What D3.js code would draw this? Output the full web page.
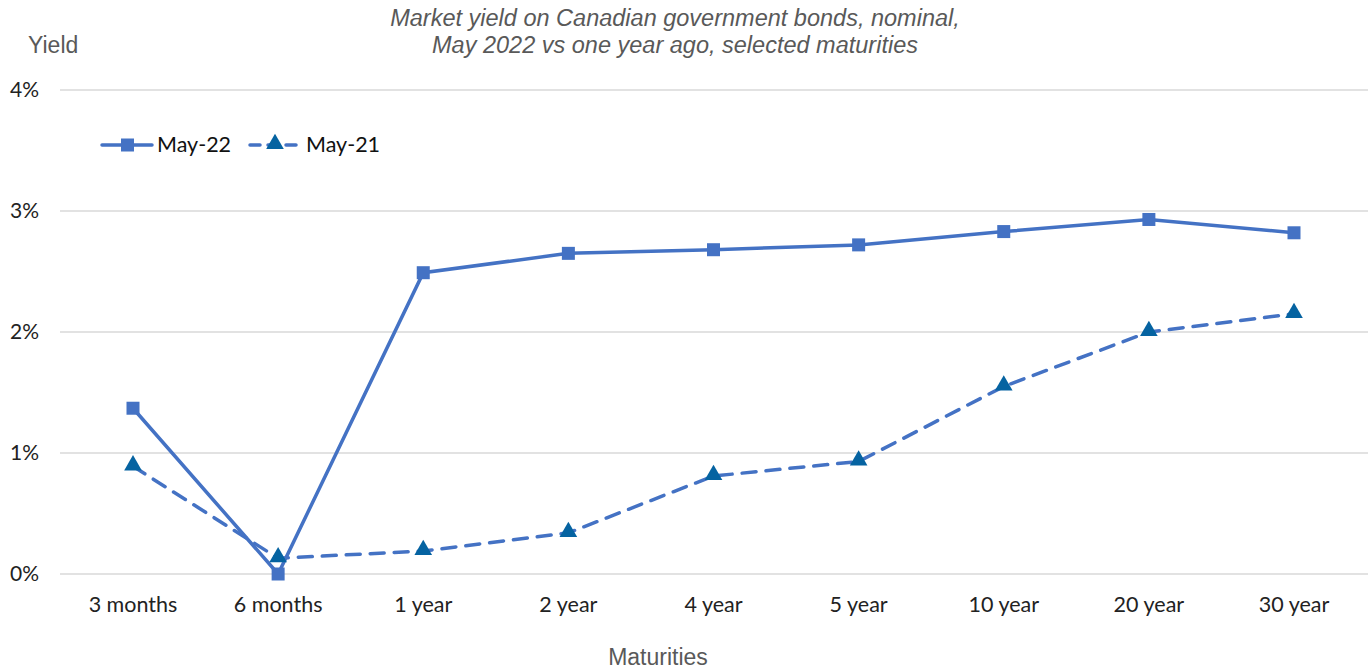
<!DOCTYPE html>
<html>
<head>
<meta charset="utf-8">
<script src="https://cdn.jsdelivr.net/npm/d3@7"></script>
<style>
  body { margin: 0; background: #fff; }
  svg text { font-family: Lato, "Open Sans", sans-serif; }
  .ttl { font-family: "Liberation Sans", Arial, sans-serif !important; }
</style>
</head>
<body>
<div id="chart"></div>
<script>
// data
var maturities = ['3 months', '6 months', '1 year', '2 year', '4 year', '5 year', '10 year', '20 year', '30 year'];
var may22 = [1.37, 0.0, 2.49, 2.65, 2.68, 2.72, 2.83, 2.93, 2.82];
var may21 = [0.89, 0.13, 0.19, 0.34, 0.81, 0.93, 1.55, 2.00, 2.15];
var yTicks = [0, 1, 2, 3, 4];

var W = 1368, H = 669;
var blue = '#4472c4', darkBlue = '#0563a1';

var svg = d3.select('#chart').append('svg').attr('width', W).attr('height', H);

var x = d3.scalePoint().domain(maturities).range([133, 1294]);
var y = d3.scaleLinear().domain([0, 4]).range([574, 90]);

// gridlines
svg.append('g').selectAll('line').data(yTicks).enter().append('line')
	.attr('x1', 60).attr('x2', 1368)
	.attr('y1', function(d) { return y(d); }).attr('y2', function(d) { return y(d); })
	.attr('stroke', '#d9d9d9').attr('stroke-width', 1.5);

// y labels
svg.append('g').selectAll('text').data(yTicks).enter().append('text')
	.attr('x', 39).attr('y', function(d) { return y(d) + 7; })
	.attr('text-anchor', 'end').attr('font-size', 21).attr('fill', '#222')
	.text(function(d) { return d + '%'; });

// x labels
svg.append('g').selectAll('text').data(maturities).enter().append('text')
	.attr('x', function(d) { return x(d); }).attr('y', 612)
	.attr('text-anchor', 'middle').attr('font-size', 21.5).attr('fill', '#222')
	.text(function(d) { return d; });

// titles
svg.append('text').attr('class', 'ttl').attr('x', 675).attr('y', 26)
	.attr('text-anchor', 'middle').attr('font-size', 23.5).attr('font-style', 'italic').attr('fill', '#595959')
	.text('Market yield on Canadian government bonds, nominal,');
svg.append('text').attr('class', 'ttl').attr('x', 675).attr('y', 53)
	.attr('text-anchor', 'middle').attr('font-size', 23.5).attr('font-style', 'italic').attr('fill', '#595959')
	.text('May 2022 vs one year ago, selected maturities');
svg.append('text').attr('class', 'ttl').attr('x', 28).attr('y', 53)
	.attr('font-size', 23).attr('fill', '#595959').text('Yield');
svg.append('text').attr('class', 'ttl').attr('x', 658).attr('y', 665)
	.attr('text-anchor', 'middle').attr('font-size', 23).attr('fill', '#595959').text('Maturities');

var line = d3.line()
	.x(function(d, i) { return x(maturities[i]); })
	.y(function(d) { return y(d); });

svg.append('path').datum(may21).attr('d', line)
	.attr('fill', 'none').attr('stroke', blue).attr('stroke-width', 3.5)
	.attr('stroke-dasharray', '14,10').attr('stroke-linecap', 'round');
svg.append('path').datum(may22).attr('d', line)
	.attr('fill', 'none').attr('stroke', blue).attr('stroke-width', 3.5);

var tri = d3.symbol().type(d3.symbolTriangle).size(135);
svg.append('g').selectAll('path').data(may21).enter().append('path')
	.attr('d', tri)
	.attr('transform', function(d, i) { return 'translate(' + x(maturities[i]) + ',' + (y(d) - 1) + ')'; })
	.attr('fill', darkBlue);

svg.append('g').selectAll('rect').data(may22).enter().append('rect')
	.attr('x', function(d, i) { return x(maturities[i]) - 6.5; })
	.attr('y', function(d) { return y(d) - 6.5; })
	.attr('width', 13).attr('height', 13).attr('fill', blue);

// legend
var lg = svg.append('g');
lg.append('line').attr('x1', 102).attr('x2', 152).attr('y1', 145).attr('y2', 145)
	.attr('stroke', blue).attr('stroke-width', 3.5).attr('stroke-linecap', 'round');
lg.append('rect').attr('x', 121).attr('y', 138.5).attr('width', 13).attr('height', 13).attr('fill', blue);
lg.append('text').attr('x', 157).attr('y', 152).attr('font-size', 21.5).attr('fill', '#111').text('May-22');
lg.append('line').attr('x1', 250).attr('x2', 300).attr('y1', 145).attr('y2', 145)
	.attr('stroke', blue).attr('stroke-width', 3.5).attr('stroke-dasharray', '10,8').attr('stroke-linecap', 'round');
lg.append('path').attr('d', tri).attr('transform', 'translate(275,144)').attr('fill', darkBlue);
lg.append('text').attr('x', 306).attr('y', 152).attr('font-size', 21.5).attr('fill', '#111').text('May-21');
</script>
</body>
</html>
